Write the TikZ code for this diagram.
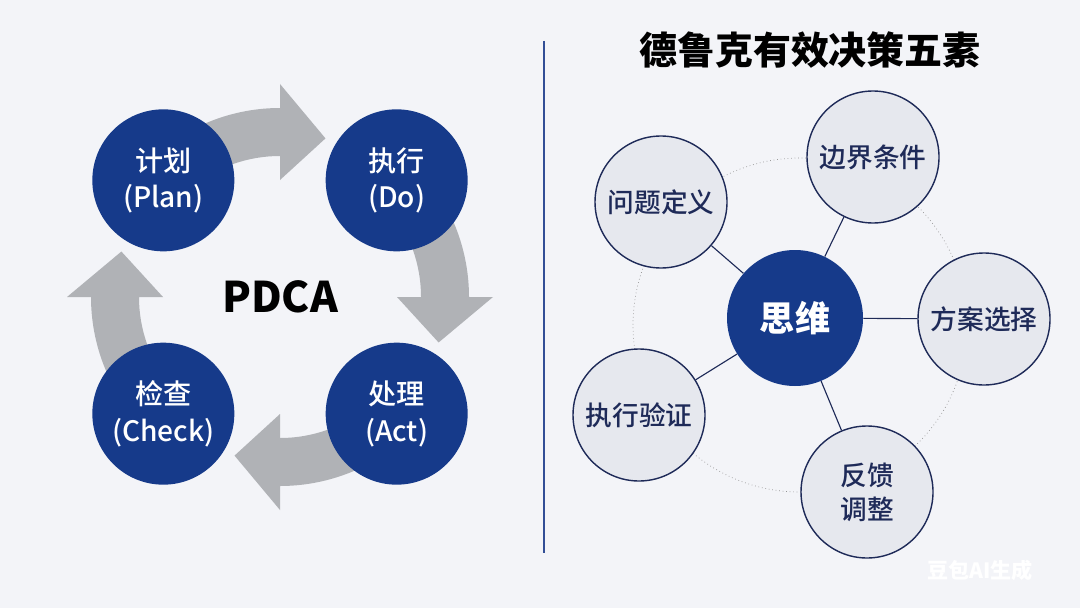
\documentclass[tikz,border=0pt]{standalone}
\usepackage{fontspec}
\setmainfont{Noto Sans CJK SC}
\newfontfamily\cjkmedium{Noto Sans CJK SC}[UprightFont=* Medium]
\usepackage{xcolor}
\usepackage{tikz}

\definecolor{pagebg}{RGB}{243,244,248}
\definecolor{navyfill}{RGB}{22,58,138}
\definecolor{navyline}{RGB}{30,42,88}
\definecolor{elemfill}{RGB}{230,232,238}
\definecolor{arrowgray}{RGB}{176,178,182}
\definecolor{dividerblue}{RGB}{50,78,150}

\begin{document}
\begin{tikzpicture}[
    stage/.style={circle, fill=navyfill, text=white, minimum size=3.55cm, inner sep=0pt, align=center, font=\cjkmedium\fontsize{20}{26}\selectfont},
    core/.style={circle, fill=navyfill, text=white, minimum size=3.40cm, inner sep=0pt, font=\fontsize{25}{30}\selectfont\bfseries},
    element/.style={circle, draw=navyline, line width=1pt, fill=elemfill, text=navyline, minimum size=3.30cm, inner sep=0pt, align=center, font=\cjkmedium\fontsize{19}{24}\selectfont},
    cyclearrow/.style={fill=arrowgray},
    spoke/.style={draw=navyline, line width=0.8pt},
    ring/.style={draw=gray!85, line width=0.5pt, dotted},
    divider/.style={draw=dividerblue, line width=1pt}
]

    \useasboundingbox (0, 0) rectangle (27, 15.2);
    \fill[pagebg] (0, 0) rectangle (27, 15.2);

    % PDCA cycle: gray block arrows first, the four stages sit on top.
    \node[font=\fontsize{30}{36}\selectfont\bfseries] (pdca) at (7.0, 7.775) {PDCA};

    \begin{scope}[shift={(pdca.center)}]
        \fill[cyclearrow] (130:4.725) arc[start angle=130, end angle=90, radius=4.725] -- (90:5.325) -- (74:4.125) -- (90:2.925) -- (90:3.525) arc[start angle=90, end angle=130, radius=3.525] -- cycle;
        \fill[cyclearrow] (40:4.725) arc[start angle=40, end angle=0, radius=4.725] -- (0:5.325) -- (-16:4.125) -- (0:2.925) -- (0:3.525) arc[start angle=0, end angle=40, radius=3.525] -- cycle;
        \fill[cyclearrow] (-50:4.725) arc[start angle=-50, end angle=-90, radius=4.725] -- (-90:5.325) -- (-106:4.125) -- (-90:2.925) -- (-90:3.525) arc[start angle=-90, end angle=-50, radius=3.525] -- cycle;
        \fill[cyclearrow] (220:4.725) arc[start angle=220, end angle=180, radius=4.725] -- (180:5.325) -- (164:4.125) -- (180:2.925) -- (180:3.525) arc[start angle=180, end angle=220, radius=3.525] -- cycle;

        \node[stage] (plan) at (135:4.125) {计划\\(Plan)};
        \node[stage] (do) at (45:4.125) {执行\\(Do)};
        \node[stage] (act) at (-45:4.125) {处理\\(Act)};
        \node[stage] (check) at (225:4.125) {检查\\(Check)};
    \end{scope}

    \draw[divider] (13.6, 14.175) -- (13.6, 1.375);

    % Drucker's five elements around the thinking core.
    \node[font=\fontsize{27}{32}\selectfont\bfseries] (title) at (20.25, 13.95) {德鲁克有效决策五素};

    \coordinate (ringcenter) at (20.0, 7.075);
    \draw[ring] (ringcenter) circle[radius=4.175];

    \node[core] (think) at (19.875, 7.25) {思维};
    \node[element] (problem) at (16.525, 10.15) {问题定义};
    \node[element] (boundary) at (21.825, 11.275) {边界条件};
    \node[element] (choice) at (24.6, 7.225) {方案选择};
    \node[element] (feedback) at (21.675, 2.9) {反馈\\调整};
    \node[element] (verify) at (15.975, 4.825) {执行验证};

    \draw[spoke] (think) -- (problem);
    \draw[spoke] (think) -- (boundary);
    \draw[spoke] (think) -- (choice);
    \draw[spoke] (think) -- (feedback);
    \draw[spoke] (think) -- (verify);

    \node[text=white, font=\fontsize{15}{18}\selectfont\bfseries] (mark) at (24.5, 0.95) {豆包AI生成};

\end{tikzpicture}
\end{document}
